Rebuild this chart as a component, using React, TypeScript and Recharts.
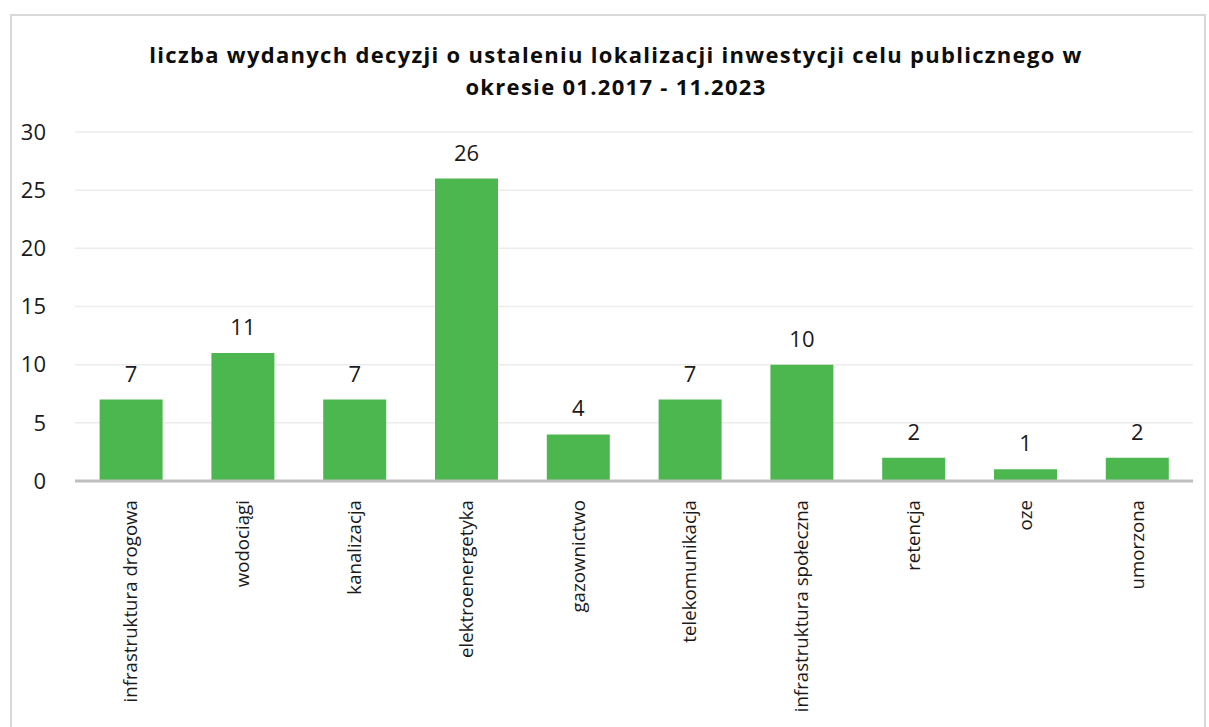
import React from "react";
import { BarChart, Bar, XAxis, YAxis, CartesianGrid, LabelList } from "recharts";

const categories = [
  "infrastruktura drogowa",
  "wodociągi",
  "kanalizacja",
  "elektroenergetyka",
  "gazownictwo",
  "telekomunikacja",
  "infrastruktura społeczna",
  "retencja",
  "oze",
  "umorzona",
];
const decisionCounts = [7, 11, 7, 26, 4, 7, 10, 2, 1, 2];
const yTicks = [0, 5, 10, 15, 20, 25, 30];

const data = categories.map((name, i) => ({ name, value: decisionCounts[i] }));

const FONT = "'Open Sans', Lato, sans-serif";

const RotatedTick = (props: any) => {
  const { x, y, payload } = props;
  return (
    <g transform={`translate(${x},${y})`}>
      <text
        transform="rotate(-90)"
        x={-11}
        y={0}
        dy="0.35em"
        textAnchor="end"
        fontSize={18.7}
        fontFamily={FONT}
        fill="#1a1a1a"
      >
        {payload.value}
      </text>
    </g>
  );
};

export default function App() {
  return (
    <div style={{ position: "absolute", left: 0, top: 0, width: 1209, height: 727, overflow: "hidden", background: "#fff" }}>
      <div
        style={{
          position: "absolute",
          left: 10,
          top: 14,
          width: 1196,
          height: 730,
          border: "2px solid #d9d9d9",
          boxSizing: "border-box",
        }}
      />
      <div
        style={{
          position: "absolute",
          left: 0,
          top: 38,
          width: 1232,
          textAlign: "center",
          fontFamily: FONT,
          fontWeight: 700,
          fontSize: 22,
          letterSpacing: 1.3,
          lineHeight: "32px",
          color: "#0d0d0d",
        }}
      >
        liczba wydanych decyzji o ustaleniu lokalizacji inwestycji celu publicznego w
        <br />
        okresie 01.2017 - 11.2023
      </div>
      <div style={{ position: "absolute", left: 0, top: 0 }}>
        <BarChart
          width={1209}
          height={727}
          data={data}
          margin={{ top: 132, right: 16, bottom: 0, left: 0 }}
          barCategoryGap="22%"
        >
          <CartesianGrid vertical={false} stroke="#ececec" strokeWidth={1.5} />
          <XAxis
            dataKey="name"
            height={246}
            interval={0}
            axisLine={{ stroke: "#bfbfbf", strokeWidth: 3 }}
            tickLine={false}
            tick={<RotatedTick />}
          />
          <YAxis
            width={75}
            domain={[0, 30]}
            ticks={yTicks}
            axisLine={false}
            tickLine={false}
            tickMargin={23}
            tick={{ fontSize: 22, fill: "#1a1a1a", fontFamily: FONT }}
          />
          <Bar dataKey="value" fill="#4db74f" isAnimationActive={false}>
            <LabelList
              dataKey="value"
              position="top"
              offset={18}
              style={{ fontSize: 22, fill: "#1a1a1a", fontFamily: FONT }}
            />
          </Bar>
        </BarChart>
      </div>
    </div>
  );
}
